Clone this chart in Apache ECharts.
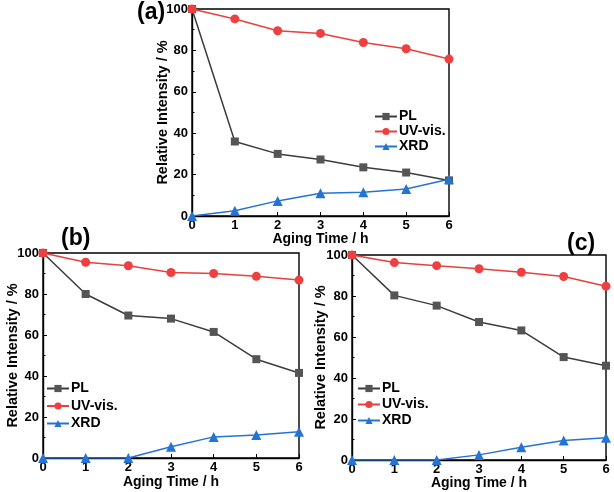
<!DOCTYPE html>
<html><head><meta charset="utf-8">
<script src="https://cdn.jsdelivr.net/npm/echarts@6/dist/echarts.min.js"></script>
<style>html,body{margin:0;padding:0;background:#fff}#c{width:614px;height:492px}</style>
</head><body><div id="c"></div>
<script>
const hours = [0, 1, 2, 3, 4, 5, 6];
const seriesNames = ['PL', 'UV-vis.', 'XRD'];
const panelLabels = ['(a)', '(b)', '(c)'];
const xTitle = 'Aging Time / h';
const yTitle = 'Relative Intensity / %';

const plA = [100, 36, 30, 27.3, 23.5, 21, 17.2];
const uvA = [100, 95.2, 89.5, 88.2, 83.8, 80.8, 75.8];
const xrdA = [0, 2.5, 7.3, 11, 11.5, 13, 17.8];

const plB = [100, 80, 69.5, 68, 61.5, 48.2, 41.5];
const uvB = [100, 95.5, 93.8, 90.5, 90, 88.6, 86.8];
const xrdB = [0, 0, 0, 5.5, 10.3, 11.2, 12.8];

const plC = [100, 80.3, 75.3, 67.3, 63.2, 50.2, 46];
const uvC = [100, 96.3, 94.8, 93.3, 91.6, 89.5, 84.8];
const xrdC = [0, 0, 0, 2.5, 6.2, 9.5, 10.8];

const panels = [[plA, uvA, xrdA], [plB, uvB, xrdB], [plC, uvC, xrdC]];

const grids = [
  {left: 192, top: 9, width: 257, height: 207},
  {left: 43, top: 253, width: 256, height: 205},
  {left: 352, top: 255, width: 254, height: 205}
];
const legendPos = [
  {left: 374, top: 109, gap: 0},
  {left: 46, top: 381, gap: 2.5},
  {left: 357, top: 381, gap: 1}
];
const labelPos = [
  {left: 137, top: 1},
  {left: 61, top: 227},
  {left: 567, top: 232}
];
const xNameGap = [16, 17, 16];
const yNameGap = [22, 23, 24];

const colors = {line: ['#3c3c3c', '#e8403c', '#2474d4'], sym: ['#555555', '#ee4040', '#2474d4']};
const symbols = ['rect', 'circle', 'triangle'];
const symSizes = [8, 9, 10];
const font = 'Liberation Sans, Arial, sans-serif';

const option = {
  animation: false,
  backgroundColor: '#fff',
  grid: grids.map(g => Object.assign({show: true, borderColor: '#000', borderWidth: 1.4, backgroundColor: 'transparent'}, g)),
  title: panelLabels.map((t, i) => ({text: t, left: labelPos[i].left, top: labelPos[i].top, padding: 0,
    textStyle: {fontFamily: font, fontWeight: 'bold', fontSize: 23, color: '#000'}})),
  xAxis: grids.map((g, i) => ({
    type: 'value', gridIndex: i, min: 0, max: 6, interval: 1,
    name: xTitle, nameLocation: 'middle', nameGap: xNameGap[i], nameMoveOverlap: false,
    nameTextStyle: {fontFamily: font, fontWeight: 'bold', fontSize: 14, color: '#000'},
    axisLine: {lineStyle: {color: '#000', width: 1.4}},
    axisTick: {inside: true, length: 4, lineStyle: {color: '#000'}},
    axisLabel: {fontFamily: font, fontWeight: 'bold', fontSize: 13, color: '#000', margin: 3},
    splitLine: {show: false}
  })),
  yAxis: grids.map((g, i) => ({
    type: 'value', gridIndex: i, min: 0, max: 100, interval: 20,
    name: yTitle, nameLocation: 'middle', nameGap: yNameGap[i], nameMoveOverlap: false,
    nameTextStyle: {fontFamily: font, fontWeight: 'bold', fontSize: 14.5, color: '#000'},
    axisLine: {lineStyle: {color: '#000', width: 1.4}},
    axisTick: {inside: true, length: 4, lineStyle: {color: '#000'}},
    minorTick: {show: true, splitNumber: 2, length: 2.5, lineStyle: {color: '#000'}},
    axisLabel: {fontFamily: font, fontWeight: 'bold', fontSize: 13, color: '#000', margin: 4},
    splitLine: {show: false}
  })),
  legend: legendPos.map((p, i) => ({
    left: p.left, top: p.top, orient: 'vertical', itemWidth: 22, itemHeight: 9, itemGap: p.gap, padding: 0,
    textStyle: {fontFamily: font, fontWeight: 'bold', fontSize: 14, color: '#000', lineHeight: 15, padding: [0, 0, 0, -3]},
    data: seriesNames.map(n => n + '\u200b'.repeat(i))
  })),
  series: []
};
panels.forEach((p, i) => {
  p.forEach((vals, k) => {
    option.series.push({
      type: 'line', name: seriesNames[k] + '\u200b'.repeat(i), xAxisIndex: i, yAxisIndex: i,
      data: hours.map((h, j) => [h, vals[j]]),
      symbol: symbols[k], symbolSize: symSizes[k], showAllSymbol: true,
      lineStyle: {color: colors.line[k], width: 1.5},
      itemStyle: {color: colors.sym[k], borderWidth: 0},
      z: 3 + k
    });
  });
});
echarts.init(document.getElementById('c'), null, {renderer: 'canvas'}).setOption(option);
</script></body></html>
